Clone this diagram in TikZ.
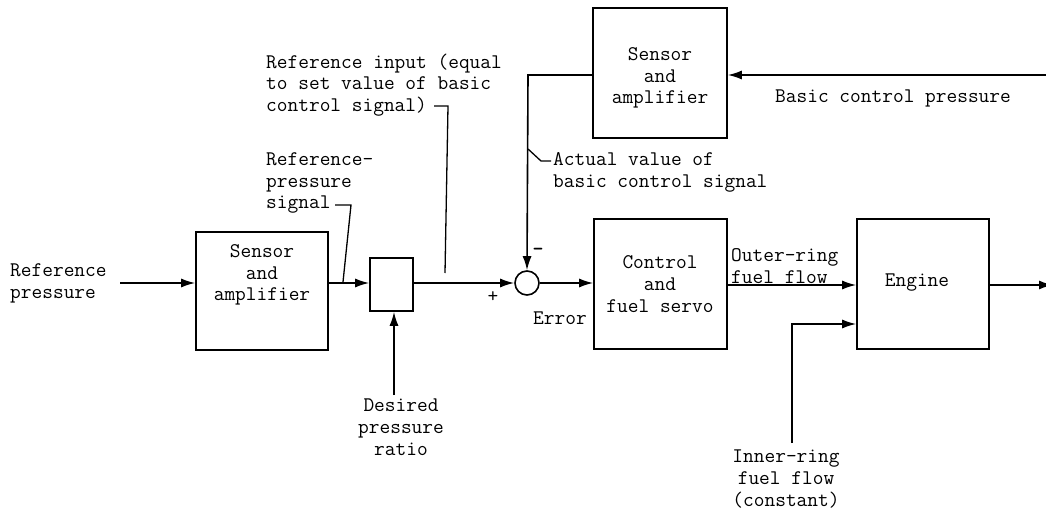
\documentclass[tikz,border=0pt]{standalone}
\usepackage{fontspec}
\usetikzlibrary{arrows.meta}
\tikzset{
  blk/.style={draw, line width=1.6pt, inner sep=0pt},
  txt/.style={inner sep=0pt, font=\ttfamily\fontsize{20.8}{21.8}\selectfont},
  wire/.style={line width=1.6pt},
  arr/.style={line width=1.6pt, -{Latex[length=14pt,width=9pt]}},
  lead/.style={line width=1.3pt},
}
\begin{document}
\begin{tikzpicture}[x=1pt,y=-1pt]
\useasboundingbox (0,0) rectangle (1046,513);
% blocks
\node[blk, minimum width=132pt, minimum height=118pt] (s1) at (262,291) {};
\node[txt, align=center] (s1t) at (262,275) {Sensor\\and\\amplifier};
\node[blk, minimum width=43pt, minimum height=53pt] (rb) at (391.5,284.5) {};
\node[draw, line width=1.6pt, circle, minimum size=24pt, inner sep=0pt] (sum) at (527,283) {};
\node[blk, minimum width=133pt, minimum height=130pt] (cb) at (660.5,284) {};
\node[txt, align=center] (cbt) at (660,284) {Control\\and\\fuel servo};
\node[blk, minimum width=134pt, minimum height=130pt] (s2) at (660,73) {};
\node[txt, align=center] (s2t) at (660,78) {Sensor\\and\\amplifier};
\node[blk, minimum width=132pt, minimum height=130pt] (eng) at (923,284) {};
\node[txt] (engt) at (917,283) {Engine};
% texts
\node[txt, align=left, anchor=west] (refp) at (10,283) {Reference\\pressure};
\node[txt, align=left, anchor=west] (rps) at (266,183) {Reference-\\pressure\\signal};
\node[txt, align=left, anchor=west] (rin) at (266,85) {Reference input (equal\\to set value of basic\\control signal)};
\node[txt, align=center] (dpr) at (401,427) {Desired\\pressure\\ratio};
\node[txt, align=left, anchor=west] (act) at (553,172) {Actual value of\\basic control signal};
\node[txt] (err) at (560,318) {Error};
\node[txt] (plus) at (493,297) {+};
\node[txt, font=\ttfamily\bfseries\fontsize{20.8}{21.8}\selectfont] (minus) at (538,252) {-};
\node[txt, align=left, anchor=west] (orf) at (731,266) {Outer-ring\\fuel flow};
\node[txt, align=center] (irf) at (786,479) {Inner-ring\\fuel flow\\(constant)};
\node[txt, anchor=west] (bcp) at (775,98) {Basic control pressure};
% coordinates
\coordinate (inL) at (120,283);
\coordinate (dpB) at (394,395);
\coordinate (irB) at (792,443);
\coordinate (outR) at (1053,285);
\coordinate (bcpR) at (1046,75);
% connectors
\draw[arr] (inL) -- (s1.west |- inL);
\draw[arr] (s1.east |- 0,283) -- (rb.west |- 0,283);
\draw[arr] (dpB) -- (dpB |- rb.south);
\draw[arr] (rb.east |- sum) -- (sum.west);
\draw[arr] (sum.east) -- (cb.west |- sum);
\draw[arr] (s2.west |- 0,75) -- (528,75) -- (sum.north);
\draw[arr] (cb.east |- 0,285) -- (eng.west |- 0,285);
\draw[arr] (irB) -- (792,324) -- (eng.west |- 0,324);
\draw[arr] (eng.east |- 0,285) -- (outR);
\draw[arr] (bcpR) -- (s2.east |- bcpR);
% leaders
\draw[lead] (335,205) -- (351,205) -- (343,282);
\draw[lead] (434,106) -- (448,106) -- (445,273);
\draw[lead] (528,149) -- (541,161) -- (551,161);
\end{tikzpicture}
\end{document}
